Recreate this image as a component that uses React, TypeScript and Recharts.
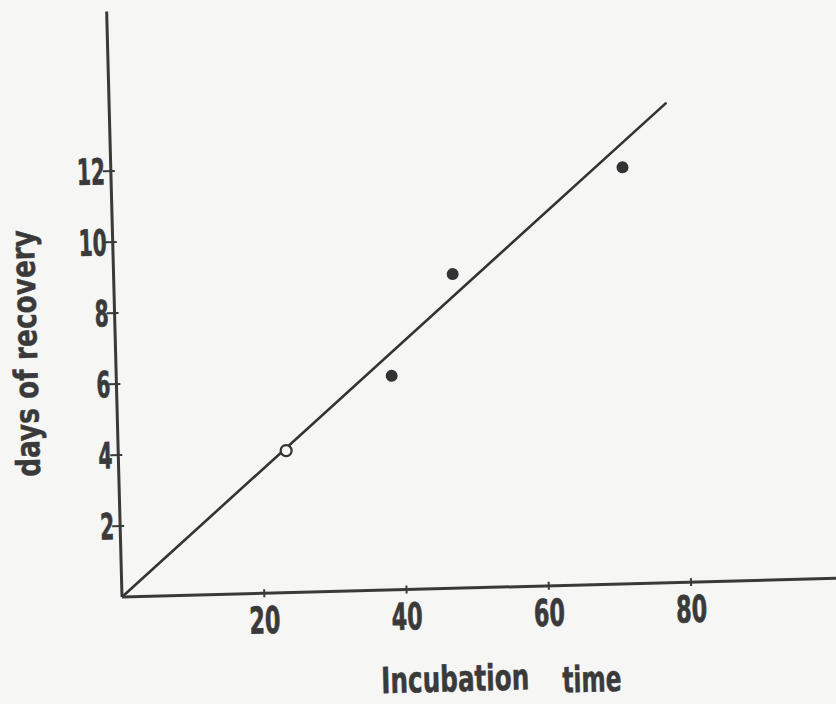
import React from "react";
import { ComposedChart, XAxis, YAxis, Line, Scatter } from "recharts";

// Incubation time (x) vs days of recovery (y)
const openPoints = [{ x: 23.6, y: 4.0 }];
const filledPoints = [
  { x: 38.7, y: 6.03 },
  { x: 47.65, y: 8.85 },
  { x: 71.9, y: 11.73 },
];
const fitLine = [
  { x: 0, y: 0 },
  { x: 78.2, y: 13.5 },
];
const xTicks = [20, 40, 60, 80];
const yTicks = [2, 4, 6, 8, 10, 12];
const xLabelWords = ["Incubation", "time"];
const yLabelText = "days of recovery";

const INK = "#3a3a3a";
const FONT = "'Liberation Sans Narrow', 'DejaVu Sans Condensed', 'Roboto Condensed', sans-serif";

const XTick = (props: any) => {
  const { x, y, payload } = props;
  const s = String(payload.value);
  return (
    <g>
      <line x1={x} x2={x} y1={y - 4} y2={y + 4} stroke={INK} strokeWidth={2} />
      <text
        x={x}
        y={y + 40}
        textAnchor="middle"
        fontFamily={FONT}
        fontWeight="bold"
        fontSize={37}
        fill={INK}
        stroke={INK}
        strokeWidth={0.7}
        textLength={s.length * 15.5}
        lengthAdjust="spacingAndGlyphs"
      >
        {s}
      </text>
    </g>
  );
};

const YTick = (props: any) => {
  const { x, y, payload } = props;
  const s = String(payload.value);
  return (
    <g>
      <line x1={x - 8} x2={x + 4} y1={y} y2={y} stroke={INK} strokeWidth={2} />
      <text
        x={x - 6}
        y={y + 13}
        textAnchor="end"
        fontFamily={FONT}
        fontWeight="bold"
        fontSize={36}
        fill={INK}
        stroke={INK}
        strokeWidth={0.7}
        textLength={s.length * 14}
        lengthAdjust="spacingAndGlyphs"
      >
        {s}
      </text>
    </g>
  );
};

const XTitle = (props: any) => {
  const vb = props.viewBox || { x: 122, y: 597 };
  const left = vb.x;
  const top = vb.y;
  return (
    <g>
      <text
        x={left + 257}
        y={top + 103}
        fontFamily={FONT}
        fontWeight="bold"
        fontSize={36}
        fill={INK}
        stroke={INK}
        strokeWidth={0.5}
        textLength={148}
        lengthAdjust="spacingAndGlyphs"
      >
        {xLabelWords[0]}
      </text>
      <text
        x={left + 438}
        y={top + 107}
        fontFamily={FONT}
        fontWeight="bold"
        fontSize={36}
        fill={INK}
        stroke={INK}
        strokeWidth={0.5}
        textLength={59}
        lengthAdjust="spacingAndGlyphs"
      >
        {xLabelWords[1]}
      </text>
    </g>
  );
};

const YTitle = (props: any) => {
  const vb = props.viewBox || { x: 0, y: 11.25, width: 122, height: 585.75 };
  const axisX = vb.x + vb.width;
  const bottom = vb.y + vb.height;
  const cx = axisX - 78.6;
  const cy = bottom - 246;
  return (
    <text
      x={cx}
      y={cy}
      transform={`rotate(-90, ${cx}, ${cy})`}
      textAnchor="middle"
      fontFamily={FONT}
      fontWeight="bold"
      fontSize={33}
      fill={INK}
      stroke={INK}
      strokeWidth={0.4}
      textLength={247}
      lengthAdjust="spacingAndGlyphs"
    >
      {yLabelText}
    </text>
  );
};

const FilledDot = (props: any) => {
  const { cx, cy } = props;
  return <circle cx={cx} cy={cy} r={6} fill="#333" />;
};

const OpenDot = (props: any) => {
  const { cx, cy } = props;
  return <circle cx={cx} cy={cy} r={5.5} fill="#f7f7f5" stroke="#333" strokeWidth={2.2} />;
};

export default function App() {
  return (
    <div
      style={{
        position: "fixed",
        left: 0,
        top: 0,
        width: 836,
        height: 704,
        overflow: "hidden",
        background: "#f6f6f4",
      }}
    >
      <div style={{ transform: "rotate(-1.5deg)", transformOrigin: "122px 597px", width: 860, height: 740 }}>
        <ComposedChart
          width={860}
          height={740}
          margin={{ top: 11.25, right: 5.15, bottom: 0, left: 0 }}
        >
          <XAxis
            type="number"
            dataKey="x"
            domain={[0, 103]}
            ticks={xTicks}
            allowDataOverflow
            height={143}
            tickLine={false}
            tickSize={0}
            tickMargin={0}
            axisLine={{ stroke: INK, strokeWidth: 3 }}
            tick={<XTick />}
            interval={0}
            label={<XTitle />}
          />
          <YAxis
            type="number"
            dataKey="y"
            domain={[0, 16.5]}
            ticks={yTicks}
            allowDataOverflow
            width={122}
            tickLine={false}
            tickSize={0}
            tickMargin={0}
            axisLine={{ stroke: INK, strokeWidth: 3 }}
            tick={<YTick />}
            interval={0}
            label={<YTitle />}
          />
          <Line
            data={fitLine}
            dataKey="y"
            type="linear"
            stroke="#333"
            strokeWidth={2.6}
            strokeLinecap="round"
            dot={false}
            activeDot={false}
            isAnimationActive={false}
          />
          <Scatter data={filledPoints} dataKey="y" shape={<FilledDot />} isAnimationActive={false} />
          <Scatter data={openPoints} dataKey="y" shape={<OpenDot />} isAnimationActive={false} />
        </ComposedChart>
      </div>
    </div>
  );
}
